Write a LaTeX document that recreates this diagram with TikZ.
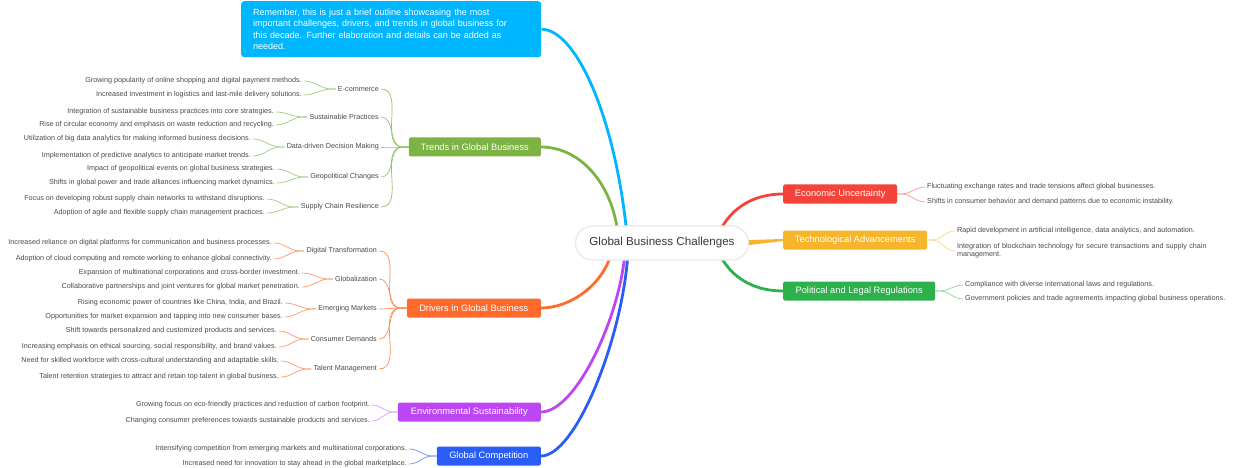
\documentclass[tikz,border=0pt]{standalone}
\usepackage{fontspec}
\setmainfont{Liberation Sans}
\usetikzlibrary{backgrounds}

\definecolor{noteblue}{HTML}{00B6FF}
\definecolor{trendgreen}{HTML}{7CB342}
\definecolor{driverorange}{HTML}{FF6B2C}
\definecolor{envpurple}{HTML}{BC45F4}
\definecolor{compblue}{HTML}{2A5DF5}
\definecolor{econred}{HTML}{F4433A}
\definecolor{techyellow}{HTML}{F7B52C}
\definecolor{polgreen}{HTML}{2CB14C}
\definecolor{leafgray}{HTML}{4A4A4A}

\begin{document}
\begin{tikzpicture}
      [x = 1pt, y = -1pt,
      topic/.style = {
         fill = #1,
         text = white,
         rounded corners = 1.5pt,
         font = \fontsize{9.3}{11}\selectfont,
         inner xsep = 8pt,
         inner ysep = 0pt,
         minimum height = 19pt
      },
      subtopic/.style = {
         text = leafgray,
         font = \fontsize{7.2}{8.5}\selectfont,
         inner sep = 2pt
      },
      leaf/.style = {
         text = leafgray,
         font = \fontsize{7.2}{8.2}\selectfont,
         inner sep = 2pt
      },
      branch/.style = {draw = #1, line width = 2.8pt},
      twig/.style = {draw = #1, line width = 0.7pt}]
      \useasboundingbox (0, 0) rectangle (1240, 468);

      % centre and note
      \node[draw = gray!18, line width = 1.2pt, fill = white, rounded corners = 17pt,
         minimum width = 173pt, minimum height = 34pt, text = black!78,
         font = \fontsize{11.6}{13}\selectfont] (root) at (662, 243) {Global Business Challenges};
      \node[fill = noteblue, text = white, rounded corners = 3pt, anchor = north west,
         text width = 276pt, inner xsep = 12pt, minimum height = 56pt, align = left,
         font = \fontsize{9}{11.2}\selectfont] (note) at (241, 1)
         {Remember, this is just a brief outline showcasing the most\\
          important challenges, drivers, and trends in global business for\\
          this decade. Further elaboration and details can be added as\\
          needed.};

      % main topics
      \node[topic = trendgreen, anchor = east, minimum width = 132pt] (trends) at (541, 147) {Trends in Global Business};
      \node[topic = driverorange, anchor = east, minimum width = 134pt] (drivers) at (541, 308) {Drivers in Global Business};
      \node[topic = envpurple, anchor = east, minimum width = 143pt] (env) at (541, 412) {Environmental Sustainability};
      \node[topic = compblue, anchor = east, minimum width = 104pt] (comp) at (541, 456) {Global Competition};
      \node[topic = econred, anchor = west, minimum width = 114pt] (econ) at (783, 194) {Economic Uncertainty};
      \node[topic = techyellow, anchor = west, minimum width = 144pt] (tech) at (783, 240) {Technological Advancements};
      \node[topic = polgreen, anchor = west, minimum width = 152pt] (pol) at (783, 291) {Political and Legal Regulations};

      % trends
      \node[subtopic, anchor = east] (ecom) at (381, 89) {E-commerce};
      \node[subtopic, anchor = east] (sustain) at (381, 117) {Sustainable Practices};
      \node[subtopic, anchor = east] (data) at (381, 147) {Data-driven Decision Making};
      \node[subtopic, anchor = east] (geo) at (381, 177) {Geopolitical Changes};
      \node[subtopic, anchor = east] (supply) at (381, 207) {Supply Chain Resilience};
      \node[leaf, anchor = east] (ecom1) at (304, 81) {Growing popularity of online shopping and digital payment methods.};
      \node[leaf, anchor = east] (ecom2) at (304, 95) {Increased investment in logistics and last-mile delivery solutions.};
      \node[leaf, anchor = east] (sustain1) at (276, 112) {Integration of sustainable business practices into core strategies.};
      \node[leaf, anchor = east] (sustain2) at (276, 125) {Rise of circular economy and emphasis on waste reduction and recycling.};
      \node[leaf, anchor = east] (data1) at (253, 139) {Utilization of big data analytics for making informed business decisions.};
      \node[leaf, anchor = east] (data2) at (253, 156) {Implementation of predictive analytics to anticipate market trends.};
      \node[leaf, anchor = east] (geo1) at (277, 169) {Impact of geopolitical events on global business strategies.};
      \node[leaf, anchor = east] (geo2) at (277, 183) {Shifts in global power and trade alliances influencing market dynamics.};
      \node[leaf, anchor = east] (supply1) at (267, 199) {Focus on developing robust supply chain networks to withstand disruptions.};
      \node[leaf, anchor = east] (supply2) at (267, 213) {Adoption of agile and flexible supply chain management practices.};

      % drivers
      \node[subtopic, anchor = east] (digital) at (379, 251) {Digital Transformation};
      \node[subtopic, anchor = east] (globe) at (379, 279) {Globalization};
      \node[subtopic, anchor = east] (emerge) at (379, 309) {Emerging Markets};
      \node[subtopic, anchor = east] (consumer) at (379, 339) {Consumer Demands};
      \node[subtopic, anchor = east] (talent) at (379, 369) {Talent Management};
      \node[leaf, anchor = east] (digital1) at (274, 243) {Increased reliance on digital platforms for communication and business processes.};
      \node[leaf, anchor = east] (digital2) at (274, 259) {Adoption of cloud computing and remote working to enhance global connectivity.};
      \node[leaf, anchor = east] (globe1) at (302, 273) {Expansion of multinational corporations and cross-border investment.};
      \node[leaf, anchor = east] (globe2) at (302, 287) {Collaborative partnerships and joint ventures for global market penetration.};
      \node[leaf, anchor = east] (emerge1) at (285, 303) {Rising economic power of countries like China, India, and Brazil.};
      \node[leaf, anchor = east] (emerge2) at (285, 317) {Opportunities for market expansion and tapping into new consumer bases.};
      \node[leaf, anchor = east] (consumer1) at (279, 331) {Shift towards personalized and customized products and services.};
      \node[leaf, anchor = east] (consumer2) at (279, 347) {Increasing emphasis on ethical sourcing, social responsibility, and brand values.};
      \node[leaf, anchor = east] (talent1) at (281, 361) {Need for skilled workforce with cross-cultural understanding and adaptable skills.};
      \node[leaf, anchor = east] (talent2) at (281, 377) {Talent retention strategies to attract and retain top talent in global business.};

      % environment and competition
      \node[leaf, anchor = east] (env1) at (372, 405) {Growing focus on eco-friendly practices and reduction of carbon footprint.};
      \node[leaf, anchor = east] (env2) at (372, 421) {Changing consumer preferences towards sustainable products and services.};
      \node[leaf, anchor = east] (comp1) at (409, 449) {Intensifying competition from emerging markets and multinational corporations.};
      \node[leaf, anchor = east] (comp2) at (409, 464) {Increased need for innovation to stay ahead in the global marketplace.};

      % right side
      \node[leaf, anchor = west] (econ1) at (925, 187) {Fluctuating exchange rates and trade tensions affect global businesses.};
      \node[leaf, anchor = west] (econ2) at (925, 202) {Shifts in consumer behavior and demand patterns due to economic instability.};
      \node[leaf, anchor = west] (tech1) at (955, 231) {Rapid development in artificial intelligence, data analytics, and automation.};
      \node[leaf, anchor = west, text width = 260pt, align = left] (tech2) at (955, 251)
         {Integration of blockchain technology for secure transactions and supply chain\\management.};
      \node[leaf, anchor = west] (pol1) at (963, 285) {Compliance with diverse international laws and regulations.};
      \node[leaf, anchor = west] (pol2) at (963, 299) {Government policies and trade agreements impacting global business operations.};

      \coordinate (inNote) at (627, 235);
      \coordinate (inTrends) at (618, 235);
      \coordinate (inDrivers) at (611, 254);
      \coordinate (inEnv) at (625, 252);
      \coordinate (inComp) at (628, 252);
      \coordinate (inEcon) at (716, 240);
      \coordinate (inPol) at (716, 246);

      \begin{scope}[on background layer]
      \draw[branch = noteblue] (note.east) .. controls +(34, 0) and +(-12, -120) .. (inNote);
      \draw[branch = trendgreen] (trends.east) .. controls +(40, 0) and +(-5, -50) .. (inTrends);
      \draw[branch = driverorange] (drivers.east) .. controls +(30, 0) and +(-8, 30) .. (inDrivers);
      \draw[branch = envpurple] (env.east) .. controls +(35, 0) and +(-5, 65) .. (inEnv);
      \draw[branch = compblue] (comp.east) .. controls +(35, 0) and +(-5, 85) .. (inComp);
      \draw[branch = econred] (inEcon) to[out = 70, in = 180] (econ.west);
      \draw[branch = polgreen] (inPol) to[out = -70, in = 180] (pol.west);
      \fill[techyellow] ([xshift = -6pt, yshift = 2.8pt]root.east) -- ([yshift = 1pt]tech.west)
         -- ([yshift = -1pt]tech.west) -- ([xshift = -6pt, yshift = -2.8pt]root.east) -- cycle;

      \foreach \s in {ecom, sustain, data, geo, supply} {
         \draw[twig = trendgreen!80] (trends.west) -- ++(-6, 0) to[out = 180, in = 0] (\s.east);
         \foreach \n in {1, 2}
            \draw[twig = trendgreen!70] (\s.west) -- ++(-4, 0) to[out = 180, in = 0] (\s\n.east);
      }
      \foreach \s in {digital, globe, emerge, consumer, talent} {
         \draw[twig = driverorange!80] (drivers.west) -- ++(-6, 0) to[out = 180, in = 0] (\s.east);
         \foreach \n in {1, 2}
            \draw[twig = driverorange!70] (\s.west) -- ++(-4, 0) to[out = 180, in = 0] (\s\n.east);
      }
      \foreach \n in {1, 2} {
         \draw[twig = envpurple!55] (env.west) -- ++(-4, 0) to[out = 180, in = 0] (env\n.east);
         \draw[twig = compblue!70] (comp.west) -- ++(-4, 0) to[out = 180, in = 0] (comp\n.east);
         \draw[twig = econred!55] (econ.east) -- ++(4, 0) to[out = 0, in = 180] (econ\n.west);
         \draw[twig = techyellow!55] (tech.east) -- ++(4, 0) to[out = 0, in = 180] (tech\n.west);
         \draw[twig = polgreen!55] (pol.east) -- ++(4, 0) to[out = 0, in = 180] (pol\n.west);
      }
      \end{scope}
   \end{tikzpicture}
\end{document}
